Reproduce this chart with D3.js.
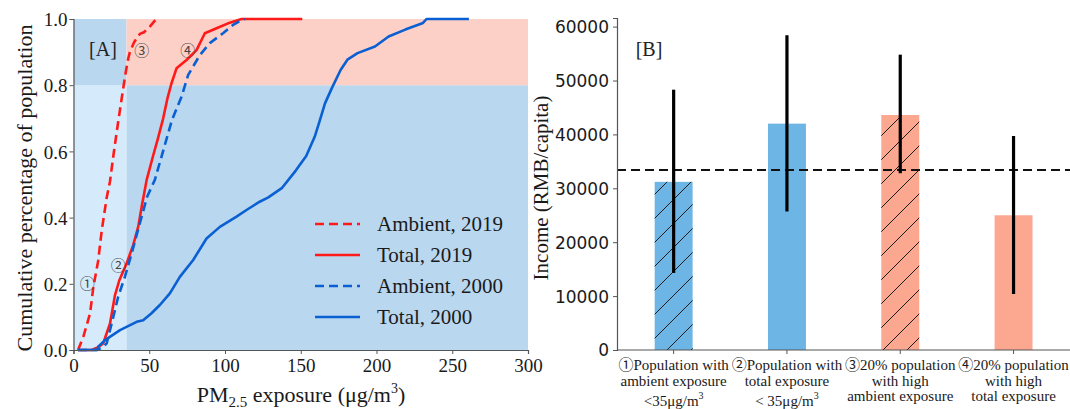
<!DOCTYPE html>
<html><head><meta charset="utf-8">
<script src="https://cdn.jsdelivr.net/npm/d3@7"></script>
<style>
html,body{margin:0;padding:0;background:#fff;}
svg{display:block;}
</style></head>
<body>
<svg id="chart" width="1070" height="409"></svg>
<script>
// ---------------- DATA ----------------
// Panel A: cumulative distribution of population by PM2.5 exposure
const ambient2019X = [3, 6.5, 10.9, 13.1, 16.3, 18.6, 21.9, 24.1, 26.4, 29.5, 32.8, 34.5, 36.1, 37.2, 40, 43.8, 46.5, 50.4, 53.7, 55];
const ambient2019Y = [0, 0.04, 0.11, 0.19, 0.27, 0.36, 0.46, 0.51, 0.59, 0.69, 0.79, 0.84, 0.88, 0.9, 0.93, 0.955, 0.96, 0.977, 0.995, 1];
const total2019X = [3, 12, 16, 19.6, 24.1, 27.4, 30.2, 35.1, 39.4, 42.7, 45, 48.3, 52.5, 55.8, 59.2, 62, 64.7, 68, 74.6, 81.2, 86.7, 94.4, 103.2, 110.9, 151];
const total2019Y = [0, 0, 0.008, 0.02, 0.08, 0.166, 0.21, 0.262, 0.317, 0.372, 0.433, 0.514, 0.586, 0.64, 0.70, 0.76, 0.806, 0.851, 0.876, 0.906, 0.957, 0.972, 0.989, 1, 1];
const ambient2000X = [3, 15, 18, 21.9, 25.2, 29.5, 33.9, 38.4, 43.8, 48.6, 53.7, 58.2, 65, 71.3, 75.7, 83.4, 90, 98.7, 105.3, 110.9, 113];
const ambient2000Y = [0, 0, 0.005, 0.02, 0.08, 0.161, 0.221, 0.292, 0.383, 0.463, 0.514, 0.586, 0.695, 0.765, 0.831, 0.891, 0.927, 0.957, 0.982, 0.997, 1];
const total2000X = [3, 16, 16.3, 20.8, 30.7, 41.7, 46, 51.5, 57, 63.6, 70.2, 79, 87.8, 96.6, 107.6, 114.2, 122.9, 128.6, 137.7, 146.7, 153.6, 159.2, 162.6, 166, 170.6, 176.3, 180.8, 187.5, 199, 208, 219, 230.7, 233, 261];
const total2000Y = [0, 0, 0.01, 0.03, 0.06, 0.085, 0.09, 0.111, 0.136, 0.171, 0.221, 0.272, 0.337, 0.372, 0.403, 0.423, 0.448, 0.461, 0.49, 0.542, 0.586, 0.644, 0.694, 0.745, 0.792, 0.846, 0.877, 0.897, 0.917, 0.947, 0.968, 0.988, 1, 1];
const seriesNames = ["Ambient, 2019", "Total, 2019", "Ambient, 2000", "Total, 2000"];
const xTicksA = [0, 50, 100, 150, 200, 250, 300];
const yTicksA = [0, 0.2, 0.4, 0.6, 0.8, 1.0];
const threshold = 35;      // μg/m3
const topShare = 0.8;      // top 20% population
const markerLabels = ["①", "②", "③", "④"];
const markerX = [9, 29.5, 45, 75.5];
const markerY = [0.2, 0.255, 0.905, 0.905];

// Panel B: income by group
const categories = ["g1", "g2", "g3", "g4"];
const categoryLines = [
  ["①Population with", "ambient exposure", "<35μg/m^3"],
  ["②Population with", "total exposure", "< 35μg/m^3"],
  ["③20% population", "with high", "ambient exposure"],
  ["④20% population", "with high", "total exposure"]
];
const incomeMean = [31200, 42000, 43600, 25000];
const incomeLow = [14300, 25700, 32800, 10400];
const incomeHigh = [48300, 58400, 54800, 39700];
const hatched = [true, false, true, false];
const groupColor = ["blue", "blue", "red", "red"];
const averageIncome = 33400;
const yTicksB = [0, 10000, 20000, 30000, 40000, 50000, 60000];

// ---------------- STYLE ----------------
const serif = "'Liberation Serif','Times New Roman',serif";
const sans = "'DejaVu Sans',sans-serif";
const RED = "#ff1a1a", BLUE = "#0a60d2";
const BAR_BLUE = "#6db5e5", BAR_RED = "#fca891";
const BG_LIGHT = "#d5eafb", BG_BLUE = "#b9d7ef", BG_PINK = "#fdd0c7";
const AXIS = "#555";

const svg = d3.select("#chart");
const defs = svg.append("defs");
const pat = defs.append("pattern").attr("id", "hatch").attr("patternUnits", "userSpaceOnUse")
  .attr("width", 24).attr("height", 24);
pat.append("path").attr("d", "M-1,10 L10,-1 M8,25 L25,8")
  .attr("stroke", "#1a1a1a").attr("stroke-width", 1);

// ================= PANEL A =================
const xA = d3.scaleLinear().domain([0, 300]).range([73.5, 528]);
const yA = d3.scaleLinear().domain([0, 1]).range([350, 19]);
const gA = svg.append("g");

function bgRect(x0, x1, y0, y1, c) {
  gA.append("rect").attr("x", xA(x0)).attr("y", yA(y1))
    .attr("width", xA(x1) - xA(x0)).attr("height", yA(y0) - yA(y1)).attr("fill", c);
}
bgRect(0, threshold, 0, topShare, BG_LIGHT);
bgRect(threshold, 300, 0, topShare, BG_BLUE);
bgRect(0, threshold, topShare, 1, BG_BLUE);
bgRect(threshold, 300, topShare, 1, BG_PINK);

const seriesA = [
  {x: ambient2019X, y: ambient2019Y, color: RED, dash: "9,5"},
  {x: total2019X, y: total2019Y, color: RED, dash: null},
  {x: ambient2000X, y: ambient2000Y, color: BLUE, dash: "9,5"},
  {x: total2000X, y: total2000Y, color: BLUE, dash: null}
];
const line = d3.line().x(d => xA(d[0])).y(d => yA(d[1]));
seriesA.forEach(s => {
  gA.append("path").datum(d3.zip(s.x, s.y)).attr("d", line)
    .attr("fill", "none").attr("stroke", s.color).attr("stroke-width", 2.6)
    .attr("stroke-dasharray", s.dash).attr("stroke-linejoin", "round");
});

// axes
const axA_x = gA.append("g").attr("transform", `translate(0,${yA(0)})`)
  .call(d3.axisBottom(xA).tickValues(xTicksA).tickSize(4).tickPadding(2).tickFormat(d3.format("d")));
const axA_y = gA.append("g").attr("transform", `translate(${xA(0)},0)`)
  .call(d3.axisLeft(yA).tickValues(yTicksA).tickSize(4).tickPadding(2).tickFormat(d3.format(".1f")));
[axA_x, axA_y].forEach(a => {
  a.select(".domain").attr("stroke", AXIS).attr("stroke-width", 1.2);
  a.selectAll(".tick line").attr("stroke", AXIS);
  a.selectAll("text").attr("font-family", serif).attr("font-size", 19).attr("fill", "#1a1a1a");
});
axA_x.selectAll("text").attr("dy", "0.85em");
axA_y.selectAll("text").attr("dy", "0.35em");

// panel label
gA.append("text").attr("x", 103).attr("y", 56).attr("text-anchor", "middle")
  .attr("font-family", serif).attr("font-size", 20).attr("fill", "#222").text("[A]");

// circled markers
markerLabels.forEach((m, i) => {
  gA.append("text").attr("x", xA(markerX[i])).attr("y", yA(markerY[i]))
    .attr("dy", "0.35em").attr("text-anchor", "middle")
    .attr("font-family", serif + ",'Noto Sans CJK SC'").attr("font-size", 15).attr("fill", "#444").text(m);
});

// legend
const legY0 = 224, legStep = 31;
seriesA.forEach((s, i) => {
  const y = legY0 + i * legStep;
  gA.append("line").attr("x1", 315).attr("x2", 360).attr("y1", y).attr("y2", y)
    .attr("stroke", s.color).attr("stroke-width", 2.6).attr("stroke-dasharray", s.dash);
  gA.append("text").attr("x", 377).attr("y", y).attr("dy", "0.35em")
    .attr("font-family", serif).attr("font-size", 21).attr("fill", "#1a1a1a").text(seriesNames[i]);
});

// axis labels
const xl = gA.append("text").attr("x", 301).attr("y", 402).attr("text-anchor", "middle")
  .attr("font-family", serif).attr("font-size", 22).attr("fill", "#1a1a1a");
xl.append("tspan").text("PM");
xl.append("tspan").attr("font-size", 15).attr("dy", 5).text("2.5");
xl.append("tspan").attr("dy", -5).text(" exposure (μg/m");
xl.append("tspan").attr("font-size", 14).attr("dy", -9).text("3");
xl.append("tspan").attr("dy", 9).text(")");

gA.append("text").attr("transform", "translate(24,188) rotate(-90)").attr("dy", "0.35em")
  .attr("text-anchor", "middle").attr("font-family", serif).attr("font-size", 22)
  .attr("fill", "#1a1a1a").text("Cumulative percentage of population");

// ================= PANEL B =================
const xB = d3.scaleBand().domain(categories).range([617, 617 + 4 * 113.3])
  .paddingInner(0.665).paddingOuter(0.3325);
const yB = d3.scaleLinear().domain([0, 61600]).range([350, 18]);
const gB = svg.append("g");

categories.forEach((c, i) => {
  const fill = groupColor[i] === "blue" ? BAR_BLUE : BAR_RED;
  gB.append("rect").attr("x", xB(c)).attr("y", yB(incomeMean[i]))
    .attr("width", xB.bandwidth()).attr("height", yB(0) - yB(incomeMean[i])).attr("fill", fill);
  if (hatched[i]) {
    gB.append("rect").attr("x", xB(c)).attr("y", yB(incomeMean[i]))
      .attr("width", xB.bandwidth()).attr("height", yB(0) - yB(incomeMean[i])).attr("fill", "url(#hatch)");
  }
});
// average line
gB.append("line").attr("x1", 617).attr("x2", 1070).attr("y1", yB(averageIncome)).attr("y2", yB(averageIncome))
  .attr("stroke", "#111").attr("stroke-width", 2).attr("stroke-dasharray", "9,5");
// error bars
categories.forEach((c, i) => {
  const cx = xB(c) + xB.bandwidth() / 2;
  gB.append("line").attr("x1", cx).attr("x2", cx).attr("y1", yB(incomeLow[i])).attr("y2", yB(incomeHigh[i]))
    .attr("stroke", "#000").attr("stroke-width", 3.2);
});

const axB_y = gB.append("g").attr("transform", "translate(617,0)")
  .call(d3.axisLeft(yB).tickValues(yTicksB).tickSize(4).tickPadding(4).tickFormat(d3.format("d")));
axB_y.select(".domain").attr("stroke", AXIS).attr("stroke-width", 1.2);
axB_y.selectAll(".tick line").attr("stroke", AXIS);
axB_y.selectAll("text").attr("font-family", sans).attr("font-size", 17).attr("fill", "#1a1a1a").attr("dy", "0.35em");

const axB_x = gB.append("g").attr("transform", "translate(0,350)")
  .call(d3.axisBottom(xB).tickSize(4).tickFormat(""));
axB_x.select(".domain").attr("stroke", AXIS).attr("stroke-width", 1.2)
  .attr("d", "M617,0V0H1070");
axB_x.selectAll(".tick line").attr("stroke", AXIS);

// category labels
const lineBase = [370, 385.5, 401];
categories.forEach((c, i) => {
  const cx = xB(c) + xB.bandwidth() / 2;
  categoryLines[i].forEach((t, j) => {
    const hasSup = t.includes("^");
    const tx = gB.append("text").attr("x", cx).attr("y", hasSup ? lineBase[j] + 5 : lineBase[j])
      .attr("text-anchor", "middle").attr("font-family", serif + ",'Noto Sans CJK SC'")
      .attr("font-size", 15).attr("fill", "#1a1a1a");
    if (hasSup) {
      const parts = t.split("^");
      tx.append("tspan").text(parts[0]);
      tx.append("tspan").attr("font-size", 10).attr("dy", -7).text(parts[1]);
    } else tx.text(t);
  });
});

gB.append("text").attr("x", 649).attr("y", 56).attr("text-anchor", "middle")
  .attr("font-family", serif).attr("font-size", 20).attr("fill", "#222").text("[B]");

gB.append("text").attr("transform", "translate(541,188) rotate(-90)").attr("dy", "0.35em")
  .attr("text-anchor", "middle").attr("font-family", serif).attr("font-size", 21)
  .attr("fill", "#1a1a1a").text("Income (RMB/capita)");
</script>
</body></html>
